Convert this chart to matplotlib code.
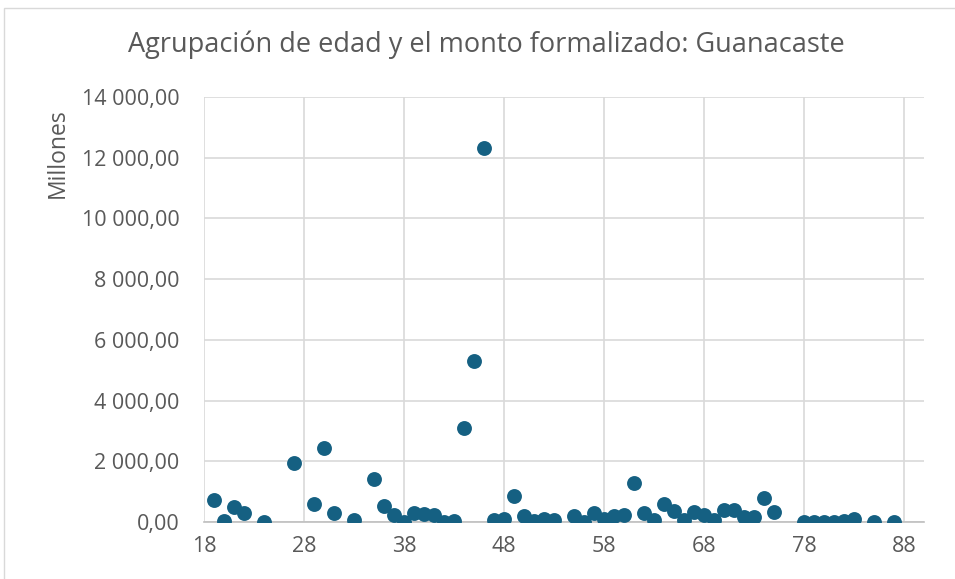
import matplotlib.pyplot as plt
from matplotlib.patches import Rectangle
from matplotlib.ticker import FuncFormatter

# edad vs monto formalizado (millones)
edades = [19, 20, 21, 22, 24, 27, 29, 30, 31, 33, 35, 36, 37, 38, 39, 40, 41,
          42, 43, 44, 45, 46, 47, 48, 49, 50, 51, 52, 53, 55, 56, 57, 58, 59,
          60, 61, 62, 63, 64, 65, 66, 67, 68, 69, 70, 71, 72, 73, 74, 75, 78,
          79, 80, 81, 82, 83, 85, 87]
montos = [720, 20, 500, 300, 5, 1940, 580, 2450, 280, 55, 1420, 520, 220, 10,
          280, 245, 220, 10, 35, 3100, 5310, 12310, 60, 80, 855, 200, 15, 110,
          75, 205, 10, 285, 95, 195, 230, 1290, 305, 65, 590, 370, 65, 315,
          230, 65, 390, 390, 170, 150, 775, 340, 5, 0, 0, 0, 40, 85, 10, 0]

gris = "#595959"
plt.rcParams["font.family"] = ["Open Sans", "DejaVu Sans"]

fig = plt.figure(figsize=(9.55, 5.79), dpi=100)
ax = fig.add_axes([0.2139, 0.0986, 0.7536, 0.7339])

ax.scatter(edades, montos, s=115, color="#156082", zorder=3, linewidths=0)

ax.set_xlim(18, 90)
ax.set_ylim(0, 14000)
ax.set_xticks(range(18, 89, 10))
ax.set_yticks(range(0, 14001, 2000))


def fmt(v, pos):
    return f"{v:,.2f}".replace(",", " ").replace(".", ",")


ax.yaxis.set_major_formatter(FuncFormatter(fmt))
ax.grid(True, color="#d9d9d9", linewidth=1.2, zorder=0)
ax.tick_params(length=0, labelsize=15.5, colors=gris, pad=10)
ax.tick_params(axis="y", pad=18)
for s in ["top", "right", "left"]:
    ax.spines[s].set_visible(False)
ax.spines["bottom"].set_color("#bfbfbf")
ax.spines["bottom"].set_linewidth(1.2)
ax.set_axisbelow(True)

fig.text(0.06, 0.736, "Millones", rotation=90, ha="center", va="center",
         fontsize=16.5, color=gris)
fig.text(0.509, 0.922, "Agrupación de edad y el monto formalizado: Guanacaste",
         ha="center", va="center", fontsize=19.5, color=gris)

fig.patches.append(Rectangle((4 / 955, -0.01), 1.0, 1 - 8 / 579 + 0.01,
                             transform=fig.transFigure, fill=False,
                             edgecolor="#d9d9d9", linewidth=1))

fig.savefig("out.png", dpi=100)
